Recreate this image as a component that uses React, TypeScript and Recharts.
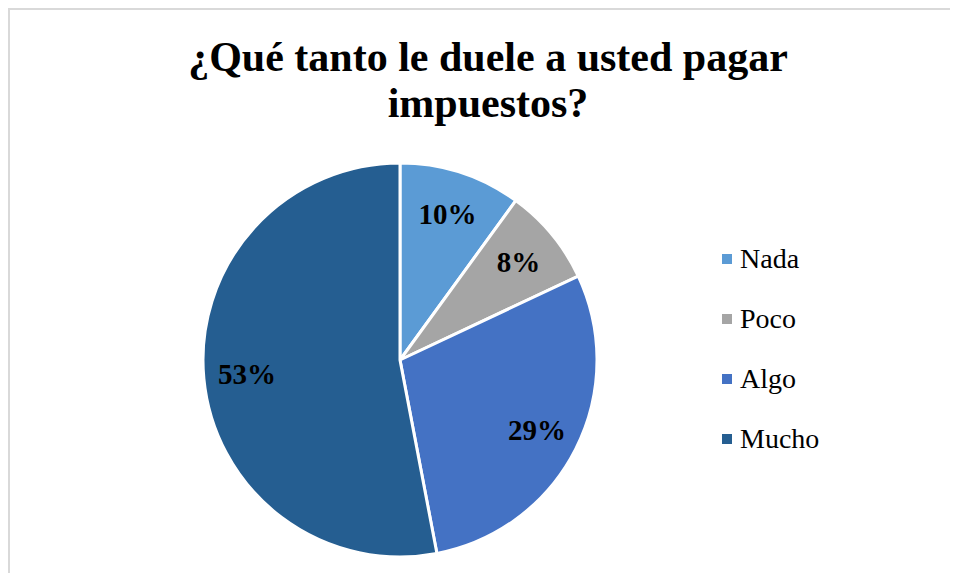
import React from "react";
import { PieChart, Pie, Cell, Legend } from "recharts";

const categories = ["Nada", "Poco", "Algo", "Mucho"];
const percents = [10, 8, 29, 53];
const colors = ["#5B9BD5", "#A5A5A5", "#4472C4", "#255E91"];

const chartData = categories.map((name, i) => ({ name, value: percents[i] }));

const RAD = Math.PI / 180;
const serif = "Liberation Serif";

const renderLabel = (props: any) => {
  const { cx, cy, midAngle, outerRadius, value } = props;
  const r = outerRadius * 0.78;
  const x = cx + r * Math.cos(-midAngle * RAD);
  const y = cy + r * Math.sin(-midAngle * RAD);
  return (
    <text
      x={x}
      y={y}
      textAnchor="middle"
      dominantBaseline="central"
      fill="#000"
      fontFamily={serif}
      fontWeight="bold"
      fontSize={29}
    >
      {`${value}%`}
    </text>
  );
};

const renderLegend = () => (
  <div style={{ fontFamily: serif, fontSize: 28, color: "#000" }}>
    {categories.map((name, i) => (
      <div key={name} style={{ display: "flex", alignItems: "center", height: 60 }}>
        <span
          style={{
            display: "inline-block",
            width: 10,
            height: 10,
            background: colors[i],
            marginRight: 8,
          }}
        />
        <span>{name}</span>
      </div>
    ))}
  </div>
);

const App: React.FC = () => {
  return (
    <div
      style={{
        position: "relative",
        width: 942,
        height: 563,
        overflow: "hidden",
        borderTop: "2px solid #d9d9d9",
        borderLeft: "2px solid #d9d9d9",
        background: "#fff",
      }}
    >
      <div
        style={{
          position: "absolute",
          left: 0,
          top: 24,
          width: 956,
          textAlign: "center",
          fontFamily: serif,
          fontWeight: "bold",
          fontSize: 42,
          lineHeight: "46px",
          color: "#000",
        }}
      >
        ¿Qué tanto le duele a usted pagar
        <br />
        impuestos?
      </div>
      <PieChart
        width={942}
        height={563}
        margin={{ top: 0, right: 0, bottom: 0, left: 0 }}
      >
        <Pie
          data={chartData}
          dataKey="value"
          nameKey="name"
          cx={390}
          cy={350}
          outerRadius={197}
          startAngle={90}
          endAngle={-270}
          stroke="#fff"
          strokeWidth={3}
          label={renderLabel}
          labelLine={false}
          isAnimationActive={false}
        >
          {chartData.map((d, i) => (
            <Cell key={d.name} fill={colors[i]} />
          ))}
        </Pie>
        <Legend
          layout="vertical"
          verticalAlign="top"
          align="right"
          content={renderLegend}
          wrapperStyle={{ left: 712, top: 219, width: 200 }}
        />
      </PieChart>
    </div>
  );
};

export default App;
